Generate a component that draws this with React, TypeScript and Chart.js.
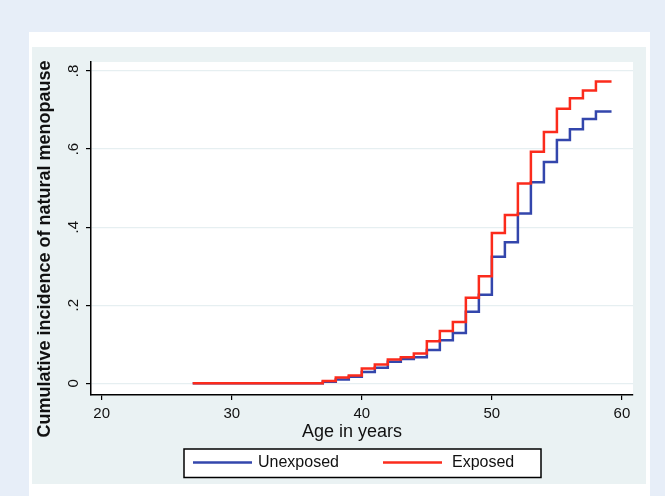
import { useEffect, useRef } from "react";
import Chart from "chart.js/auto";

// ages where the estimate steps, and the cumulative incidence from that age on
const ages = [27, 37, 38, 39, 40, 41, 42, 43, 44, 45, 46, 47, 48, 49, 50, 51, 52, 53, 54, 55, 56, 57, 58, 59.2];
const unexposed = [0, 0.004, 0.01, 0.017, 0.029, 0.04, 0.055, 0.062, 0.067, 0.085, 0.11, 0.129, 0.183, 0.227, 0.324, 0.361, 0.435, 0.515, 0.567, 0.623, 0.651, 0.677, 0.696, 0.696];
const exposed = [0, 0.006, 0.015, 0.02, 0.038, 0.048, 0.061, 0.067, 0.076, 0.108, 0.134, 0.157, 0.219, 0.274, 0.385, 0.431, 0.512, 0.593, 0.644, 0.703, 0.73, 0.75, 0.773, 0.773];

const xTicks = [20, 30, 40, 50, 60];
const yTicks = [0, 0.2, 0.4, 0.6, 0.8];
const yTickLabels = ["0", ".2", ".4", ".6", ".8"];

const xTitle = "Age in years";
const yTitle = "Cumulative incidence of natural menopause";

const FONT = '"Liberation Sans", Arial, sans-serif';

const stataPlugin = {
  id: "stata",
  beforeDraw(chart: any) {
    const { ctx, chartArea: a } = chart;
    ctx.save();
    ctx.fillStyle = "#ffffff";
    ctx.fillRect(a.left, a.top, a.right - a.left, a.bottom - a.top);
    ctx.restore();
  },
  afterDraw(chart: any) {
    const { ctx, scales } = chart;
    const y = scales.y;
    ctx.save();
    ctx.fillStyle = "#111";
    ctx.textAlign = "center";
    ctx.textBaseline = "middle";

    // rotated y tick labels
    ctx.font = "15px " + FONT;
    yTicks.forEach((v, i) => {
      ctx.save();
      ctx.translate(42, y.getPixelForValue(v));
      ctx.rotate(-Math.PI / 2);
      ctx.fillText(yTickLabels[i], 0, 0);
      ctx.restore();
    });

    // axis titles
    ctx.font = "bold 18px " + FONT;
    ctx.save();
    ctx.translate(13, 202);
    ctx.rotate(-Math.PI / 2);
    ctx.fillText(yTitle, 0, 0);
    ctx.restore();
    ctx.font = "18px " + FONT;
    ctx.fillText(xTitle, 320, 385);

    // legend box
    ctx.fillStyle = "#ffffff";
    ctx.fillRect(152, 402, 357, 28.5);
    ctx.strokeStyle = "#000";
    ctx.lineWidth = 1.5;
    ctx.strokeRect(152, 402, 357, 28.5);
    const items = [
      { x: 161, tx: 226 },
      { x: 351, tx: 420 },
    ];
    const ds = chart.data.datasets;
    ctx.font = "16px " + FONT;
    ctx.textAlign = "left";
    items.forEach((it, i) => {
      ctx.strokeStyle = ds[i].borderColor;
      ctx.lineWidth = 2.5;
      ctx.beginPath();
      ctx.moveTo(it.x, 415.5);
      ctx.lineTo(it.x + 59, 415.5);
      ctx.stroke();
      ctx.fillStyle = "#111";
      ctx.fillText(ds[i].label, it.tx, 416);
    });
    ctx.restore();
  },
};

const App = () => {
  const canvasRef = useRef<HTMLCanvasElement | null>(null);

  useEffect(() => {
    let chart: Chart | null = null;
    if (canvasRef.current) {
      const ctx = canvasRef.current.getContext("2d");
      if (ctx) {
        chart = new Chart(ctx, {
          type: "line",
          data: {
            datasets: [
              {
                label: "Unexposed",
                data: ages.map((a, i) => ({ x: a, y: unexposed[i] })),
                borderColor: "#3346ac",
                borderWidth: 2.5,
                stepped: true,
                pointRadius: 0,
                fill: false,
                order: 2,
              },
              {
                label: "Exposed",
                data: ages.map((a, i) => ({ x: a, y: exposed[i] })),
                borderColor: "#fb2b1c",
                borderWidth: 2.5,
                stepped: true,
                pointRadius: 0,
                fill: false,
                order: 1,
              },
            ],
          },
          options: {
            animation: false,
            responsive: false,
            maintainAspectRatio: false,
            layout: {
              padding: { top: 15, right: 13, bottom: 41, left: 0 },
            },
            plugins: {
              legend: { display: false },
              tooltip: { enabled: false },
            },
            scales: {
              x: {
                type: "linear",
                min: 19.18,
                max: 60.85,
                afterBuildTicks: (s: any) => {
                  s.ticks = xTicks.map((v) => ({ value: v }));
                },
                afterFit: (s: any) => {
                  s.height = 48;
                },
                grid: {
                  drawOnChartArea: false,
                  tickColor: "#000",
                  tickLength: 5,
                  lineWidth: 1.2,
                },
                border: { color: "#000", width: 1.5 },
                ticks: {
                  autoSkip: false,
                  maxRotation: 0,
                  padding: 5,
                  color: "#111",
                  font: { family: FONT, size: 15 },
                },
              },
              y: {
                type: "linear",
                min: -0.03,
                max: 0.823,
                afterBuildTicks: (s: any) => {
                  s.ticks = yTicks.map((v) => ({ value: v }));
                },
                afterFit: (s: any) => {
                  s.width = 59;
                },
                grid: {
                  color: "#e6eff1",
                  tickColor: "#000",
                  tickLength: 5,
                  lineWidth: 1.2,
                },
                border: { color: "#000", width: 1.5 },
                ticks: { display: false },
              },
            },
          },
          plugins: [stataPlugin],
        });
      }
    }
    return () => {
      chart?.destroy();
    };
  }, []);

  return (
    <div style={{ position: "fixed", left: 0, top: 0, width: 665, height: 496, background: "#e7eef8" }}>
      <div style={{ position: "absolute", left: 29, top: 32, width: 621, height: 464, background: "#ffffff" }} />
      <div style={{ position: "absolute", left: 32, top: 47, width: 614, height: 437, background: "#eaf2f3" }}>
        <canvas ref={canvasRef} width={614} height={437} style={{ display: "block", width: 614, height: 437 }} />
      </div>
    </div>
  );
};

export default App;
